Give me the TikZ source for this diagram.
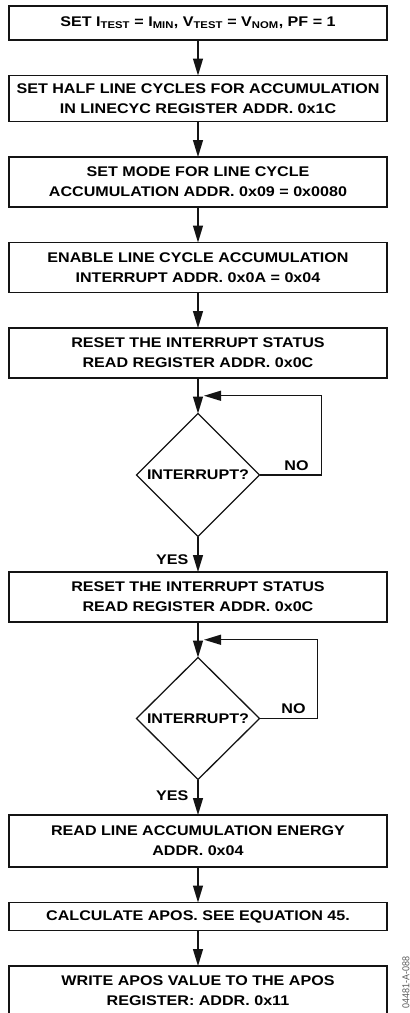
\documentclass[tikz,border=0pt]{standalone}
\usepackage{fontspec}
\setmainfont{Liberation Sans}[FakeStretch=1.15]
\newfontfamily\idfont{Liberation Sans}[FakeStretch=0.9]
\usepackage{tikz}
\usetikzlibrary{arrows.meta, positioning, shapes.geometric, calc}
\definecolor{ink}{RGB}{20,20,20}
\definecolor{idGray}{RGB}{90,90,90}
\tikzset{
  stepbox/.style={
    draw=ink,
    line width=1.3pt,
    outer sep=0pt,
    align=center,
    minimum width=378pt,
    minimum height=50pt,
    inner sep=2pt,
    font=\bfseries\fontsize{14}{20}\selectfont
  },
  decision/.style={
    draw=ink,
    line width=1.3pt,
    outer sep=0pt,
    diamond,
    aspect=1,
    inner sep=0pt,
    minimum width=123pt,
    minimum height=123pt,
    font=\bfseries\fontsize{14}{20}\selectfont
  },
  flow/.style={-{Triangle[length=17pt,width=10pt]}, line width=1.3pt, draw=ink},
  label/.style={font=\bfseries\fontsize{14}{16}\selectfont, inner sep=2pt}
}

\begin{document}
\begin{tikzpicture}[node distance=35.5pt]
  \useasboundingbox (0,0) rectangle (410pt,-1013pt);

  \node[stepbox, minimum height=34pt] (setup) at (198pt,-23pt)
    {SET I\textsubscript{TEST} = I\textsubscript{MIN}, V\textsubscript{TEST} = V\textsubscript{NOM}, PF = 1};
  \node[stepbox, below=of setup, minimum height=46pt] (halfcyc) {SET HALF LINE CYCLES FOR ACCUMULATION\\IN LINECYC REGISTER ADDR. 0x1C};
  \node[stepbox, below=of halfcyc] (mode) {SET MODE FOR LINE CYCLE\\ACCUMULATION ADDR. 0x09 = 0x0080};
  \node[stepbox, below=of mode] (enable) {ENABLE LINE CYCLE ACCUMULATION\\INTERRUPT ADDR. 0x0A = 0x04};
  \node[stepbox, below=of enable] (resetA) {RESET THE INTERRUPT STATUS\\READ REGISTER ADDR. 0x0C};
  \node[decision, below=of resetA] (irqA) {INTERRUPT?};
  \node[stepbox, below=of irqA] (resetB) {RESET THE INTERRUPT STATUS\\READ REGISTER ADDR. 0x0C};
  \node[decision, below=of resetB, minimum height=122pt] (irqB) {INTERRUPT?};
  \node[stepbox, below=of irqB, minimum height=52pt] (readE) {READ LINE ACCUMULATION ENERGY\\ADDR. 0x04};
  \node[stepbox, below=of readE, minimum height=28pt] (calc) {CALCULATE APOS. SEE EQUATION 45.};
  \node[stepbox, below=of calc, minimum height=50pt] (write) {WRITE APOS VALUE TO THE APOS\\REGISTER: ADDR. 0x11};

  \node[rotate=90, text=idGray, font=\idfont\fontsize{10}{11}\selectfont] (figid) at (406pt,-982pt) {04481-A-088};

  % loop joins
  \coordinate (joinA) at ($(resetA.south)!0.5!(irqA.north)$);
  \coordinate (joinB) at ($(resetB.south)!0.5!(irqB.north)$);

  \draw[flow] (setup) -- (halfcyc);
  \draw[flow] (halfcyc) -- (mode);
  \draw[flow] (mode) -- (enable);
  \draw[flow] (enable) -- (resetA);
  \draw[flow] (resetA) -- (irqA);
  \draw[flow, shorten >=6pt] (irqA.east) -- node[label, above, xshift=6pt, yshift=2pt] {NO} ++(62pt,0) |- (joinA);
  \draw[flow] (irqA) -- node[label, left, pos=0.64, xshift=-7pt] {YES} (resetB);
  \draw[flow] (resetB) -- (irqB);
  \draw[flow, shorten >=6pt] (irqB.east) -- node[label, above, xshift=5pt, yshift=2pt] {NO} ++(58pt,0) |- (joinB);
  \draw[flow] (irqB) -- node[label, left, pos=0.45, xshift=-7pt] {YES} (readE);
  \draw[flow] (readE) -- (calc);
  \draw[flow] (calc) -- (write);
\end{tikzpicture}
\end{document}
